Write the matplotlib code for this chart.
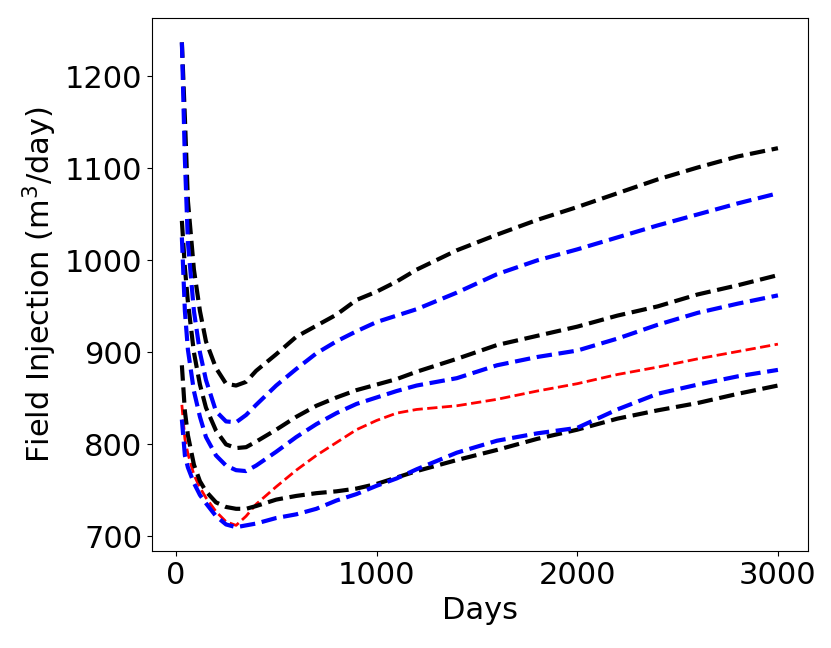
import matplotlib
matplotlib.use("Agg")
import matplotlib.pyplot as plt

# sampled report days (shared by all curves)
days = [30, 45, 60, 90, 120, 150, 200, 250, 300, 350, 400, 500, 600, 700,
        800, 900, 1000, 1100, 1200, 1400, 1600, 1800, 2000, 2200, 2400,
        2600, 2800, 3000]

# field injection rates, m3/day
black_high = [1237, 1155, 1065, 990, 945, 912, 883, 866, 864, 868, 880, 898,
              917, 929, 941, 957, 966, 977, 990, 1011, 1028, 1044, 1058,
              1073, 1088, 1101, 1113, 1122]
blue_high = [1237, 1110, 1020, 945, 900, 870, 836, 825, 824, 832, 843, 864,
             882, 899, 912, 923, 933, 940, 947, 965, 985, 1000, 1012, 1025,
             1038, 1050, 1062, 1073]
black_mid = [1043, 992, 955, 900, 865, 840, 815, 800, 796, 797, 803, 816,
             830, 842, 851, 859, 865, 871, 879, 893, 908, 918, 928, 940, 950,
             963, 973, 984]
blue_mid = [1025, 945, 903, 858, 830, 808, 788, 777, 772, 771, 777, 792,
            808, 822, 834, 844, 851, 858, 864, 872, 886, 895, 902, 915, 930,
            943, 953, 962]
red_ref = [843, 806, 790, 767, 753, 742, 727, 716, 712, 722, 735, 754, 772,
           788, 802, 816, 826, 834, 838, 842, 849, 858, 866, 876, 884, 893,
           901, 909]
blue_low = [827, 788, 775, 758, 745, 736, 722, 713, 710, 712, 714, 720, 724,
            730, 739, 746, 755, 763, 773, 791, 804, 812, 818, 838, 855, 865,
            874, 881]
black_low = [886, 836, 810, 778, 760, 749, 737, 732, 730, 730, 733, 740,
             744, 747, 749, 752, 757, 764, 771, 783, 794, 806, 816, 828, 837,
             845, 855, 864]

plt.rcParams['font.size'] = 22

fig = plt.figure(figsize=(8.31, 6.48), dpi=100)
ax = fig.add_axes([0.183, 0.149, 0.789, 0.823])

ax.plot(days, red_ref, '--', color='red', lw=2)
for black, blue in [(black_low, blue_low), (black_mid, blue_mid),
                    (black_high, blue_high)]:
    ax.plot(days, black, '--', color='black', lw=3)
    ax.plot(days, blue, '--', color='blue', lw=3)

ax.set_xlabel('Days')
ax.set_ylabel('Field Injection (m$^3$/day)')
ax.set_xticks([0, 1000, 2000, 3000])
ax.set_yticks([700, 800, 900, 1000, 1100, 1200])

fig.savefig('out.png')
